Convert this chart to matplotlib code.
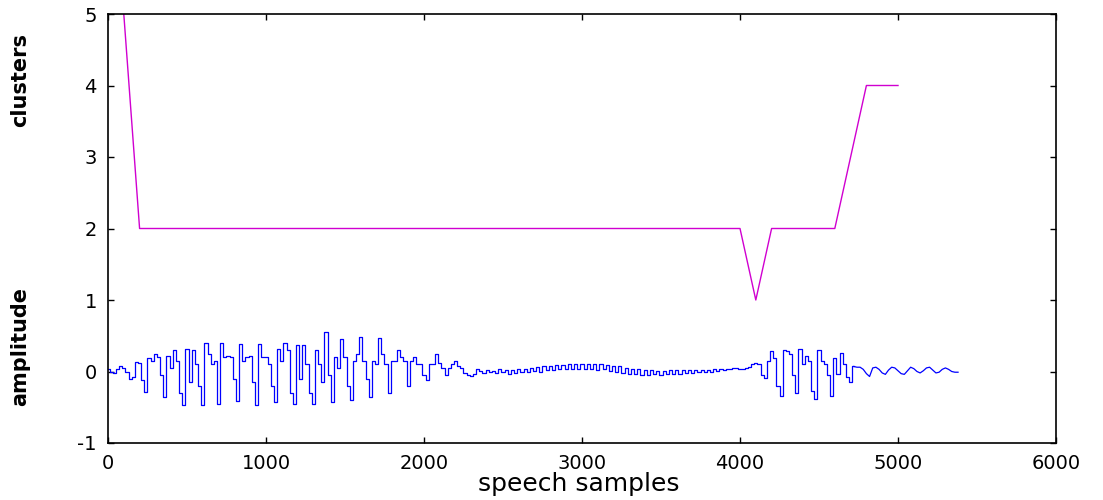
import numpy as np
import matplotlib
matplotlib.use("Agg")
import matplotlib.pyplot as plt

# cluster count estimated for each block of 100 samples
cluster_samples = list(range(100, 5001, 100))
cluster_counts = [
    5, 2, 2, 2, 2, 2, 2, 2, 2, 2,
    2, 2, 2, 2, 2, 2, 2, 2, 2, 2,
    2, 2, 2, 2, 2, 2, 2, 2, 2, 2,
    2, 2, 2, 2, 2, 2, 2, 2, 2, 2,
    1, 2, 2, 2, 2, 2, 3, 4, 4, 4,
]

# speech waveform, one value every 20 samples
sample_step = 20
amplitude = [
    # 0 - 980
    0.03, 0.00, -0.02, 0.03, 0.07, 0.05, 0.00, -0.11, -0.08, 0.13,
    0.12, -0.12, -0.28, 0.19, 0.15, 0.25, 0.20, -0.05, -0.36, 0.22,
    0.05, 0.30, 0.15, -0.30, -0.47, 0.32, -0.15, 0.30, 0.10, -0.20,
    -0.47, 0.40, 0.25, 0.10, 0.15, -0.45, 0.40, 0.20, 0.22, 0.20,
    -0.10, -0.41, 0.38, 0.15, 0.20, 0.22, -0.15, -0.47, 0.38, 0.20,
    # 1000 - 1980
    0.20, 0.10, -0.20, -0.42, 0.32, 0.15, 0.40, 0.30, -0.30, -0.46,
    0.37, -0.10, 0.37, 0.10, -0.30, -0.46, 0.30, 0.10, -0.15, 0.55,
    -0.05, -0.43, 0.20, 0.05, 0.45, 0.20, -0.20, -0.40, 0.15, 0.25,
    0.48, 0.15, -0.10, -0.35, 0.15, 0.10, 0.47, 0.25, 0.10, -0.30,
    0.15, 0.15, 0.30, 0.20, 0.15, -0.20, 0.15, 0.20, 0.10, 0.10,
    # 2000 - 2980
    -0.05, -0.12, 0.10, 0.10, 0.25, 0.12, 0.05, -0.05, 0.05, 0.10,
    0.15, 0.08, 0.05, -0.02, -0.05, -0.06, -0.04, 0.03, 0.01, -0.02,
    0.02, 0.00, 0.01, -0.02, 0.03, 0.00, 0.02, -0.03, 0.02, -0.02,
    0.03, -0.01, 0.04, 0.00, 0.05, 0.01, 0.06, 0.00, 0.07, 0.02,
    0.08, 0.02, 0.09, 0.03, 0.09, 0.04, 0.10, 0.03, 0.11, 0.04,
    # 3000 - 3980
    0.10, 0.03, 0.11, 0.04, 0.10, 0.02, 0.10, 0.03, 0.09, 0.01,
    0.08, 0.00, 0.07, -0.02, 0.05, -0.03, 0.04, -0.04, 0.03, -0.05,
    0.02, -0.05, 0.02, -0.04, 0.01, -0.05, 0.01, -0.04, 0.02, -0.03,
    0.02, -0.03, 0.02, -0.02, 0.02, -0.02, 0.02, -0.01, 0.02, -0.01,
    0.02, 0.00, 0.03, 0.01, 0.03, 0.02, 0.04, 0.03, 0.05, 0.05,
    # 4000 - 4980
    0.04, 0.03, 0.05, 0.06, 0.10, 0.12, 0.11, -0.05, -0.09, 0.14,
    0.28, 0.19, -0.20, -0.34, 0.30, 0.28, 0.24, -0.05, -0.30, 0.31,
    0.10, 0.21, 0.15, -0.27, -0.39, 0.30, 0.15, 0.10, -0.05, -0.34,
    0.19, -0.03, 0.26, 0.10, -0.07, -0.14, 0.07, 0.06, 0.06, 0.03,
    -0.03, -0.07, 0.05, 0.06, 0.03, -0.02, -0.04, 0.02, 0.06, 0.05,
    # 5000 - 5380
    0.01, -0.03, -0.04, 0.01, 0.06, 0.04, 0.00, -0.02, 0.01, 0.05,
    0.06, 0.02, -0.02, -0.01, 0.03, 0.05, 0.03, 0.00, -0.01, -0.01,
]
amp_samples = np.arange(len(amplitude)) * sample_step
# sample index where the voiced/noisy part ends and the smooth tail begins
tail_start = 4720

x_ticks = [0, 1000, 2000, 3000, 4000, 5000, 6000]
y_ticks = [-1, 0, 1, 2, 3, 4, 5]

plt.rcParams["font.family"] = ["DejaVu Sans"]

fig = plt.figure(figsize=(11.03, 5.0), dpi=100)
ax = fig.add_axes([0.0979, 0.114, 0.8595, 0.858])

ax.plot(cluster_samples, cluster_counts, color="#d000d0", lw=1.0)

amp = np.asarray(amplitude)
head = amp_samples <= tail_start
tail = amp_samples >= tail_start
ax.plot(amp_samples[head], amp[head], color="#0000ff", lw=0.9,
        drawstyle="steps-mid")
ax.plot(amp_samples[tail], amp[tail], color="#0000ff", lw=0.9)

ax.set_xlim(0, 6000)
ax.set_ylim(-1, 5)
ax.set_xticks(x_ticks)
ax.set_yticks(y_ticks)
ax.set_xticklabels([str(v) for v in x_ticks])
ax.set_yticklabels([str(v) for v in y_ticks])

ax.tick_params(direction="in", length=4, width=1, top=True, right=True,
               labelsize=14, colors="black")
ax.tick_params(axis="x", pad=8)
ax.tick_params(axis="y", pad=8)
for sp in ax.spines.values():
    sp.set_linewidth(1.2)
    sp.set_color("black")

fig.text(0.5245, 0.032, "speech samples", ha="center", va="center", fontsize=18)
fig.text(0.018, 0.84, "clusters", rotation=90, ha="center", va="center",
         fontsize=15, fontweight="bold")
fig.text(0.018, 0.308, "amplitude", rotation=90, ha="center", va="center",
         fontsize=15, fontweight="bold")

fig.savefig("out.png", dpi=100)
